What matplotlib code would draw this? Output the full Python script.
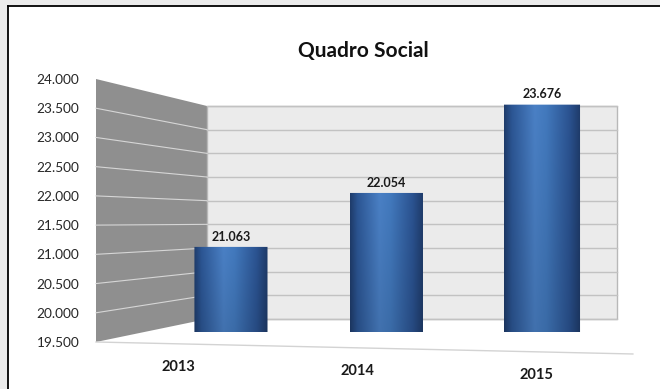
import numpy as np
import matplotlib.pyplot as plt
from matplotlib.colors import to_rgb
from matplotlib.patches import Polygon, Rectangle, PathPatch
from matplotlib.path import Path
from matplotlib.lines import Line2D

# --- Data ---
years = ["2013", "2014", "2015"]
members = [21063, 22054, 23676]
y_ticks = [19500, 20000, 20500, 21000, 21500, 22000, 22500, 23000, 23500, 24000]
y_min, y_max = 19500, 24000

plt.rcParams["font.family"] = ["Lato", "DejaVu Sans"]

W, H = 660, 389


def px_box(x0, y0, x1, y1):
    # pixel box (origin top-left) -> figure fraction [left, bottom, width, height]
    return [x0 / W, 1 - y1 / H, (x1 - x0) / W, (y1 - y0) / H]


def fmt(v):
    return f"{v:,}".replace(",", ".")


# --- Fake 3D geometry (data units of the front plane) ---
XLIM = (-0.868, 2.695)
X_FRONT_L = XLIM[0]          # front edge of the side wall
DEPTH_X = 0.714              # shift from front plane to back wall
X_BACK_R = 2.482             # right edge of the back wall
BACK_BASE, BACK_SCALE = 19893, 0.81
FLOOR_X_R, FLOOR_DROP = 2.585, 205
VP, FRONT_SCALE = 2.21, 1.154  # perspective for the category labels


def back(v):
    return BACK_BASE + (v - y_min) * BACK_SCALE


def floor_y(x):
    return y_min - (x - X_FRONT_L) / (FLOOR_X_R - X_FRONT_L) * FLOOR_DROP


fig = plt.figure(figsize=(W / 100, H / 100), dpi=100)
fig.patch.set_facecolor("#ebebeb")
fig.add_artist(Rectangle((8 / W, 0), 1, 1 - 6 / H, transform=fig.transFigure,
                         facecolor="white", edgecolor="none", zorder=0))
fig.add_artist(Line2D([8 / W, 8 / W], [0, 1 - 6 / H], transform=fig.transFigure,
                      color="black", lw=1.3))
fig.add_artist(Line2D([8 / W, 1], [1 - 6 / H, 1 - 6 / H], transform=fig.transFigure,
                      color="black", lw=1.3))

# --- Front plane: walls, floor, value axis ---
ax = fig.add_axes(px_box(96, 79, 650, 342))
ax.set_facecolor("none")
ax.set_xlim(XLIM)
ax.set_ylim(y_min, y_max)
for s in ax.spines.values():
    s.set_visible(False)
ax.set_xticks([])
ax.set_yticks(y_ticks, [fmt(v) for v in y_ticks])
ax.tick_params(axis="y", length=0, pad=12, labelsize=9.8, labelcolor="#262626")

xb = X_FRONT_L + DEPTH_X
ax.add_patch(Polygon([(X_FRONT_L, y_max), (xb, back(y_max)), (xb, back(y_min)),
                      (X_FRONT_L, y_min)], closed=True, facecolor="#8f8f8f",
                     edgecolor="none", clip_on=False, zorder=1))
ax.add_patch(Polygon([(xb, back(y_max)), (X_BACK_R, back(y_max)), (X_BACK_R, back(y_min)),
                      (xb, back(y_min))], closed=True, facecolor="#ebebeb",
                     edgecolor="#b8b8b8", lw=1, clip_on=False, zorder=1))
for v in y_ticks:
    ax.plot([xb, X_BACK_R], [back(v), back(v)], color="#c2c2c2", lw=1,
            clip_on=False, zorder=2)
    if y_min < v < y_max:
        ax.plot([X_FRONT_L, xb], [v, back(v)], color="#d6d6d6", lw=0.8,
                clip_on=False, zorder=2)
ax.plot([X_FRONT_L, FLOOR_X_R], [y_min, floor_y(FLOOR_X_R)], color="#d3d3d3",
        lw=1, clip_on=False, zorder=2)

# category labels on the front edge of the floor
for i, year in enumerate(years):
    fx = VP + (i - VP) * FRONT_SCALE
    ax.annotate(year, (fx, floor_y(fx)), xytext=(0, -17), textcoords="offset points",
                ha="center", va="center", fontsize=10.5, fontweight="bold",
                color="#1a1a1a", annotation_clip=False)

# --- Bars at mid depth ---
bax = fig.add_axes(px_box(96, 87, 650, 332))
bax.set_facecolor("none")
bax.set_zorder(ax.get_zorder() + 1)
bax.set_xlim(XLIM)
bax.set_ylim(y_min, y_max)
bax.axis("off")

x = np.arange(len(years))
heights = [m - y_min for m in members]
bars = bax.bar(x, heights, bottom=y_min, width=[0.47, 0.47, 0.49],
               color="none", edgecolor="none")

stops = [0.0, 0.1, 0.4, 0.55, 0.85, 1.0]
cols = ["#1f3c6b", "#2c5694", "#4a80c5", "#4279bd", "#2b5391", "#1e3a68"]
tt = np.linspace(0, 1, 120)
rgb_row = np.stack([np.interp(tt, stops, [to_rgb(c)[k] for c in cols]) for k in range(3)], axis=-1)
shade = np.linspace(1.0, 0.88, 80)[:, None, None]
bar_img = np.clip(rgb_row[None, :, :] * shade, 0, 1)

ell = 5 / 245 * (y_max - y_min)  # bottom arc depth (~5 px)
for rect, v in zip(bars, members):
    x0, y0 = rect.get_x(), rect.get_y()
    w, h = rect.get_width(), rect.get_height()
    t = np.linspace(0, 1, 40)
    arc = [(x0 + w * (1 - s), y0 - ell * np.sin(np.pi * s)) for s in t]
    verts = [(x0, y0 + h), (x0 + w, y0 + h)] + arc + [(x0, y0 + h)]
    codes = [Path.MOVETO] + [Path.LINETO] * (len(verts) - 2) + [Path.CLOSEPOLY]
    clip = PathPatch(Path(verts, codes), transform=bax.transData,
                     facecolor="none", edgecolor="none")
    bax.add_patch(clip)
    im = bax.imshow(bar_img, extent=(x0, x0 + w, y0 - ell, y0 + h), aspect="auto",
                    interpolation="bilinear", zorder=3)
    im.set_clip_path(clip)
    bax.annotate(fmt(v), (x0 + w / 2, y0 + h), xytext=(0, 3), textcoords="offset points",
                 ha="center", va="bottom", fontsize=9, fontweight="bold", color="#1a1a1a")

bax.set_xlim(XLIM)
bax.set_ylim(y_min, y_max)

fig.text(363 / W, 1 - 57 / H, "Quadro Social", ha="center", va="baseline",
         fontsize=15, fontweight="bold", color="#111111")

fig.savefig("out.png", dpi=100)
